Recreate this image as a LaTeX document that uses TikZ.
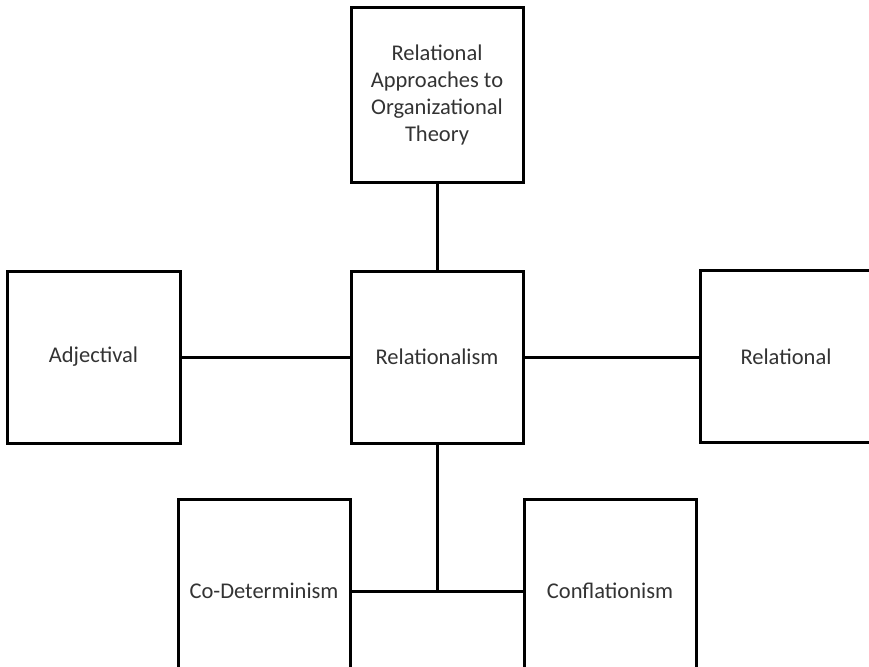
\documentclass[tikz,border=0pt]{standalone}
\usepackage{fontspec}
\setmainfont{Carlito}
\begin{document}
\begin{tikzpicture}[x=1pt,y=-1pt,
  lbl/.style={text=black!80,font=\fontsize{22.5}{27}\selectfont},
  box/.style={draw=black,line width=3pt,minimum width=172pt,minimum height=172pt,inner sep=0pt,align=center,lbl},
  link/.style={draw=black,line width=3pt}]
\useasboundingbox (0,0) rectangle (869,666);
\begin{scope}
\clip (0,0) rectangle (869,666);
\node[box,minimum height=174pt] (top) at (437,95) {Relational\\Approaches to\\Organizational\\Theory};
\node[box] (ctr) at (437,357) {Relationalism};
\node[box,minimum width=173pt] (adj) at (93.5,357) {Adjectival};
\node[box] (rel) at (786,356.5) {Relational};
\node[box] (cod) at (264,585) {};
\node[box] (cof) at (610,585) {};
\node[lbl] (codt) at (264,591) {Co-Determinism};
\node[lbl] (coft) at (610,591) {Conflationism};
\coordinate (j) at (437,591);
\draw[link] (top.south) -- (ctr.north);
\draw[link] (adj.east) -- (ctr.west);
\draw[link] (ctr.east) -- (ctr.east -| rel.west);
\draw[link] (ctr.south) -- (j);
\draw[link] (cod.east |- j) -- (cof.west |- j);
\end{scope}
\end{tikzpicture}
\end{document}
